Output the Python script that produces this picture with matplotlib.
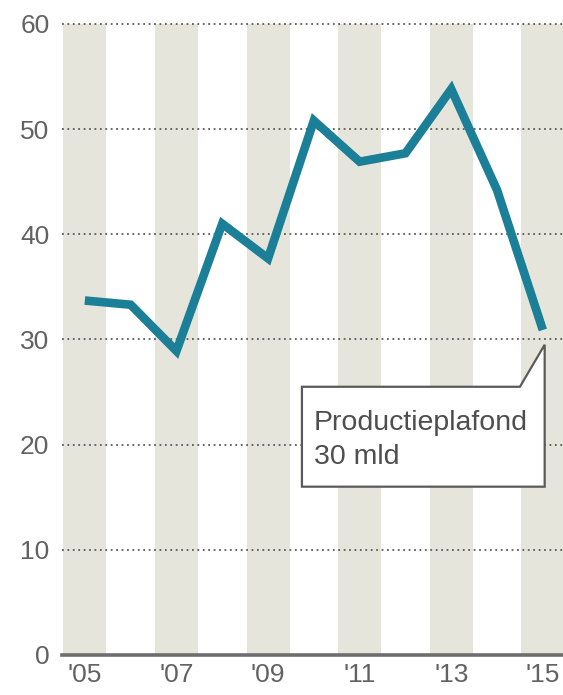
import matplotlib
matplotlib.use("Agg")
import matplotlib.pyplot as plt
from matplotlib.patches import Polygon

# data
years = [2005, 2006, 2007, 2008, 2009, 2010, 2011, 2012, 2013, 2014, 2015]
values = [33.7, 33.3, 28.9, 41.0, 37.7, 50.8, 46.9, 47.7, 53.8, 44.2, 30.9]
yticks = [0, 10, 20, 30, 40, 50, 60]
xtick_years = [2005, 2007, 2009, 2011, 2013, 2015]
xtick_labels = ["'05", "'07", "'09", "'11", "'13", "'15"]
note = "Productieplafond\n30 mld"

plt.rcParams['font.family'] = ['Liberation Sans', 'DejaVu Sans']
grey = '#5a5a5a'
teal = '#1b7f98'
band = '#e5e5db'

fig = plt.figure(figsize=(5.63, 6.95), dpi=100)
ax = fig.add_axes([0.11, 0.0576, 0.89, 0.908])
ax.set_xlim(2004.5, 2015.44)
ax.set_ylim(0, 60)

# beige column bands on odd years
for yr in xtick_years:
    ax.axvspan(yr - 0.47, yr + 0.47, color=band, lw=0, zorder=0)

# dotted gridlines
for t in yticks[1:]:
    ax.axhline(t, color=grey, lw=1.3, ls=(0, (1, 2)), zorder=1, clip_on=False)
ax.axhline(0, color='#6e6e6e', lw=2.6, zorder=3, clip_on=False)

ax.plot(years, values, color=teal, lw=6.2, solid_joinstyle='miter',
        solid_capstyle='butt', zorder=4)

# speech bubble pointing at the last year
tip_x = years[-1] + 0.04
box = Polygon([(2009.74, 25.5), (2014.5, 25.5), (tip_x, 29.5),
               (tip_x, 16.0), (2009.74, 16.0)], closed=True,
              facecolor='white', edgecolor=grey, lw=1.6, zorder=5)
ax.add_patch(box)
ax.text(2010.0, 20.45, note, ha='left', va='center', fontsize=20.5,
        color='#4e4e4e', linespacing=1.38, zorder=6)

ax.set_yticks(yticks)
ax.set_yticklabels([str(t) for t in yticks])
ax.set_xticks(xtick_years)
ax.set_xticklabels(xtick_labels)
ax.tick_params(length=0, labelsize=19, labelcolor='#626262')
ax.tick_params(axis='y', pad=9)
ax.tick_params(axis='x', pad=6)
for s in ax.spines.values():
    s.set_visible(False)

fig.savefig('out.png', dpi=100)
